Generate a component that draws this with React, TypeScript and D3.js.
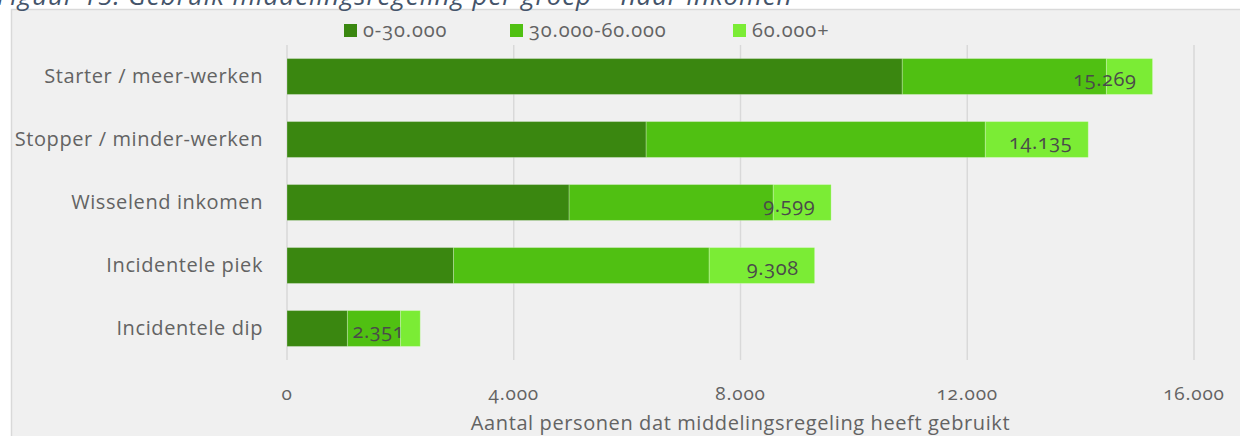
import * as d3 from "d3";
import React, { useEffect, useRef } from "react";

const categories = [
  "Starter / meer-werken",
  "Stopper / minder-werken",
  "Wisselend inkomen",
  "Incidentele piek",
  "Incidentele dip",
];
const seriesNames = ["0-30.000", "30.000-60.000", "60.000+"];
const low = [10854, 6336, 4977, 2937, 1066];
const mid = [3601, 5983, 3601, 4511, 937];
const high = [814, 1816, 1021, 1860, 348];
const xTicks = [0, 4000, 8000, 12000, 16000];
const colors = ["#3a8710", "#50c012", "#7bec35"];

const title = "Figuur 15: Gebruik middelingsregeling per groep – naar inkomen";
const xTitle = "Aantal personen dat middelingsregeling heeft gebruikt";

const nl = d3.formatLocale({
  decimal: ",",
  thousands: ".",
  grouping: [3],
  currency: ["€ ", ""],
});
const fmt = nl.format(",d");

const App = () => {
  const svgRef = useRef<SVGSVGElement | null>(null);

  useEffect(() => {
    const svg = d3.select(svgRef.current);
    const width = 1240;
    const height = 436;
    const margin = { top: 45, right: 46, bottom: 76, left: 287 };
    const innerWidth = width - margin.left - margin.right;
    const innerHeight = height - margin.top - margin.bottom;
    const font = "'Open Sans', 'Noto Sans', sans-serif";

    svg.selectAll("*").remove();

    svg.append("rect").attr("width", width).attr("height", height).attr("fill", "#ffffff");

    // chart panel
    svg
      .append("rect")
      .attr("x", 11.5)
      .attr("y", 9.5)
      .attr("width", width + 10)
      .attr("height", height + 10)
      .attr("fill", "#f0f0f0")
      .attr("stroke", "#d9d9d9")
      .attr("stroke-width", 1.5);

    // figure caption (cut off at top, as in the source)
    svg
      .append("text")
      .attr("x", -3)
      .attr("y", 5)
      .attr("font-family", font)
      .attr("font-style", "italic")
      .attr("font-size", "26px")
      .attr("letter-spacing", "0.9px")
      .attr("fill", "#44546a")
      .text(title);

    const rows = categories.map((c, i) => ({
      category: c,
      "0-30.000": low[i],
      "30.000-60.000": mid[i],
      "60.000+": high[i],
    }));

    const stacked = d3.stack<any>().keys(seriesNames)(rows);

    const xScale = d3.scaleLinear().domain([0, 16000]).range([0, innerWidth]);
    const yScale = d3
      .scaleBand()
      .domain(categories)
      .range([0, innerHeight])
      .paddingInner(0.43)
      .paddingOuter(0.215);

    const g = svg
      .append("g")
      .attr("transform", `translate(${margin.left},${margin.top})`);

    // gridlines
    g.append("g")
      .selectAll("line")
      .data(xTicks)
      .enter()
      .append("line")
      .attr("x1", (d) => xScale(d))
      .attr("x2", (d) => xScale(d))
      .attr("y1", 0)
      .attr("y2", innerHeight)
      .attr("stroke", "#d9d9d9")
      .attr("stroke-width", 1.5);

    // bars
    g.selectAll(".series")
      .data(stacked)
      .enter()
      .append("g")
      .attr("class", "series")
      .attr("fill", (d, i) => colors[i])
      .selectAll("rect")
      .data((d) => d)
      .enter()
      .append("rect")
      .attr("x", (d) => xScale(d[0]))
      .attr("y", (d) => yScale(d.data.category)!)
      .attr("width", (d) => xScale(d[1]) - xScale(d[0]))
      .attr("height", yScale.bandwidth())
      .attr("stroke", "rgba(255,255,255,0.25)")
      .attr("stroke-width", 1);

    // category labels
    g.append("g")
      .selectAll("text")
      .data(categories)
      .enter()
      .append("text")
      .attr("x", -24)
      .attr("y", (d) => yScale(d)! + yScale.bandwidth() / 2)
      .attr("dy", "0.3em")
      .attr("text-anchor", "end")
      .attr("font-family", font)
      .attr("font-size", "20px")
      .attr("letter-spacing", "0.6px")
      .attr("fill", "#636363")
      .text((d) => d);

    // total labels (inside end of the stack)
    const totals = categories.map((c, i) => low[i] + mid[i] + high[i]);
    g.append("g")
      .selectAll("text")
      .data(categories)
      .enter()
      .append("text")
      .attr("x", (d, i) => xScale(totals[i]) - 16)
      .attr("y", (d) => yScale(d)! + yScale.bandwidth() / 2 + 9)
      .attr("text-anchor", "end")
      .attr("font-family", font)
      .attr("font-size", "20px")
      .attr("letter-spacing", "0.6px")
      .style("font-variant-numeric", "oldstyle-nums")
      .attr("fill", "#4a4a4a")
      .text((d, i) => fmt(totals[i]));

    // x tick labels
    g.append("g")
      .selectAll("text")
      .data(xTicks)
      .enter()
      .append("text")
      .attr("x", (d) => xScale(d))
      .attr("y", innerHeight + 40)
      .attr("text-anchor", "middle")
      .attr("font-family", font)
      .attr("font-size", "19px")
      .attr("letter-spacing", "0.8px")
      .style("font-variant-numeric", "oldstyle-nums")
      .attr("fill", "#636363")
      .text((d) => fmt(d));

    // x axis title
    g.append("text")
      .attr("x", innerWidth / 2)
      .attr("y", innerHeight + 70)
      .attr("text-anchor", "middle")
      .attr("font-family", font)
      .attr("font-size", "20px")
      .attr("letter-spacing", "0.6px")
      .attr("fill", "#636363")
      .text(xTitle);

    // legend
    const legendX = [344, 510, 733];
    const legend = svg
      .append("g")
      .selectAll("g")
      .data(seriesNames)
      .enter()
      .append("g")
      .attr("transform", (d, i) => `translate(${legendX[i]},24)`);
    legend
      .append("rect")
      .attr("width", 13)
      .attr("height", 13)
      .attr("fill", (d, i) => colors[i]);
    legend
      .append("text")
      .attr("x", 19)
      .attr("y", 13)
      .attr("font-family", font)
      .attr("font-size", "20px")
      .attr("letter-spacing", "0.9px")
      .style("font-variant-numeric", "oldstyle-nums")
      .attr("fill", "#636363")
      .text((d) => d);
  }, []);

  return (
    <svg
      ref={svgRef}
      width="1240"
      height="436"
      style={{ position: "absolute", left: 0, top: 0 }}
    ></svg>
  );
};

export default App;
